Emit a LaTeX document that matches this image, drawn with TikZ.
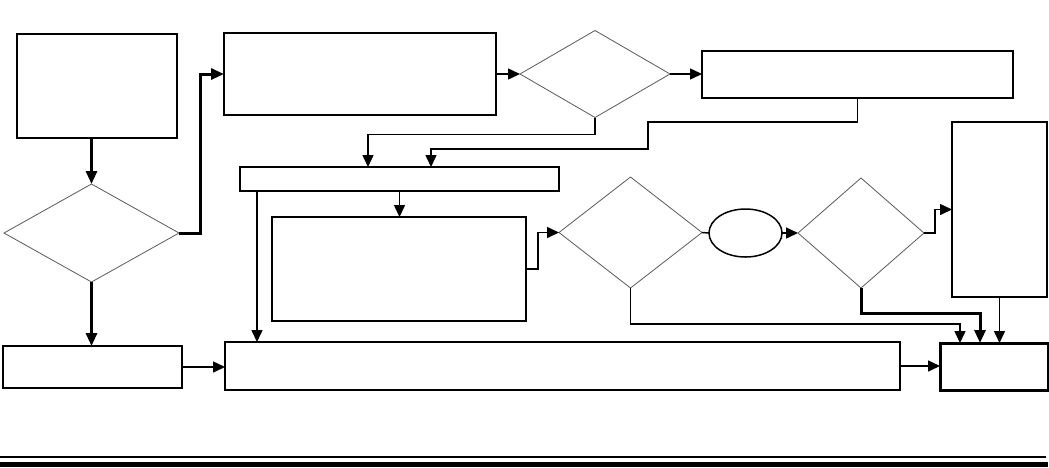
\documentclass[tikz,border=0pt]{standalone}
\usetikzlibrary{shapes.geometric,arrows.meta}
\begin{document}
\begin{tikzpicture}[x=1pt,y=-1pt,
  box/.style={draw=black,line width=1.5pt,rectangle,inner sep=0pt,outer sep=0pt},
  endbox/.style={box,line width=3pt},
  dia/.style={draw=black!65,line width=0.8pt,diamond,inner sep=0pt,outer sep=0pt},
  oval/.style={draw=black,line width=1.5pt,ellipse,inner sep=0pt,outer sep=0pt},
  conn/.style={line width=1.5pt,-{Triangle[length=12pt,width=11pt]}},
  thickconn/.style={line width=3pt,-{Triangle[length=13pt,width=11pt]}},
  plain/.style={line width=1.5pt}]
\useasboundingbox (0,0) rectangle (1049,467);
% nodes
\node[box,minimum width=160pt,minimum height=104pt] (A) at (97,86) {};
\node[dia,minimum width=175pt,minimum height=98pt] (D1) at (91.5,233) {};
\node[box,minimum width=179pt,minimum height=42pt] (C) at (92.5,367) {};
\node[box,minimum width=272pt,minimum height=82pt] (B) at (360,74) {};
\node[dia,minimum width=150pt,minimum height=87pt] (D2) at (595,74) {};
\node[box,minimum width=311pt,minimum height=47pt] (F) at (857.5,74.5) {};
\node[box,minimum width=319pt,minimum height=24pt] (E) at (399.5,179) {};
\node[box,minimum width=254pt,minimum height=104pt] (I) at (399,269) {};
\node[dia,minimum width=143pt,minimum height=111pt] (D3) at (630.5,232.5) {};
\node[oval,minimum width=73pt,minimum height=48pt] (O) at (745.5,233) {};
\node[dia,minimum width=126pt,minimum height=110pt] (D4) at (861,233) {};
\node[box,minimum width=95pt,minimum height=175pt] (G) at (999.5,209.5) {};
\node[box,minimum width=675pt,minimum height=48pt] (D) at (562.5,366) {};
\node[endbox,minimum width=108pt,minimum height=47pt] (H) at (994,366.5) {};
% connectors
\draw[thickconn] (D1.north |- A.south) -- (D1.north);
\draw[thickconn] (D1.east) -- ++(21,0) |- (B.west);
\draw[thickconn] (D1.south) -- (D1.south |- C.north);
\draw[conn] (C.east) -- (C.east -| D.west);
\draw[conn] (B.east) -- (D2.west);
\draw[conn] (D2.east) -- (D2.east -| F.west);
\coordinate (e1) at ([xshift=128pt]E.north west);
\coordinate (e2) at ([xshift=191pt]E.north west);
\draw[conn] (D2.south) -- ++(0,17) -| (e1);
\draw[conn] (F.south) |- (648,122) -- (648,149) -| (e2);
\coordinate (e3) at ([xshift=17pt]E.south west);
\draw[conn] (e3) -- (e3 |- D.north);
\draw[conn] (E.south) -- (E.south |- I.north);
\draw[conn] (I.east) -- ++(12,0) |- (D3.west);
\draw[plain] (D3.east) -- (O.west);
\draw[conn] (O.east) -- (D4.west);
\draw[conn] (D4.east) -- ++(11,0) |- (G.west);
\coordinate (h1) at ([xshift=20pt]H.north west);
\coordinate (h2) at ([xshift=40pt]H.north west);
\draw[conn] (D3.south) |- (960,324) -- (h1);
\draw[thickconn] (D4.south) |- (980,313) -- (h2);
\draw[conn] (G.south) -- (G.south |- H.north);
\draw[conn] (D.east) -- (D.east -| H.west);
% bottom rules
\draw[line width=1.3pt] (0,457) -- (1046,457);
\fill[black] (0,462) rectangle (1048,467);
\end{tikzpicture}
\end{document}
